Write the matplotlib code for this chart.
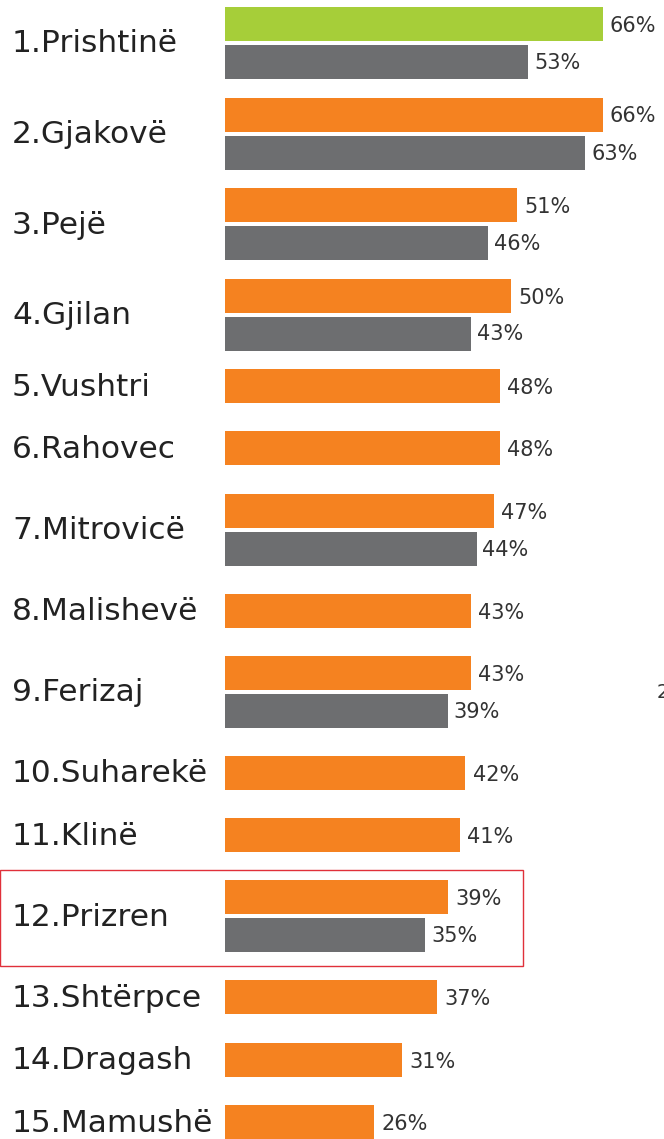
import matplotlib.pyplot as plt
from matplotlib.patches import Rectangle

cities = ["1.Prishtinë", "2.Gjakovë", "3.Pejë", "4.Gjilan", "5.Vushtri",
          "6.Rahovec", "7.Mitrovicë", "8.Malishevë", "9.Ferizaj", "10.Suharekë",
          "11.Klinë", "12.Prizren", "13.Shtërpce", "14.Dragash", "15.Mamushë"]
current = [66, 66, 51, 50, 48, 48, 47, 43, 43, 42, 41, 39, 37, 31, 26]
previous = [53, 63, 46, 43, None, None, 44, None, 39, None, None, 35, None, None, None]

ORANGE = "#F58220"
GREEN = "#A6CE39"
GRAY = "#6D6E70"
W, H = 664, 1139
PX = 5.72      # pixels per percent
X0 = 225       # bar start in pixels

fig = plt.figure(figsize=(W / 100, H / 100), dpi=100)
ax = fig.add_axes([0, 0, 1, 1])
ax.set_xlim(-X0 / PX, (W - X0) / PX)
ax.set_ylim(H, 0)
ax.axis("off")

top = 7
bar_h = 34
for i, city in enumerate(cities):
    c1 = top + bar_h / 2
    ax.barh(c1, current[i], height=bar_h, color=GREEN if i == 0 else ORANGE)
    ax.text(current[i] + 1.3, c1 + 2, f"{current[i]}%", fontsize=15,
            color="#333333", va="center", ha="left")
    if previous[i] is not None:
        c2 = c1 + bar_h + 4
        ax.barh(c2, previous[i], height=bar_h, color=GRAY)
        ax.text(previous[i] + 1.0, c2 + 1, f"{previous[i]}%", fontsize=15,
                color="#333333", va="center", ha="left")
        label_y = (c1 + c2) / 2
        top += 90.5 if i < 4 else 100
    else:
        label_y = c1
        top += 62.3
    ax.text(-X0 / PX + 12 / PX, label_y + 1, city, fontsize=22.5,
            color="#222222", va="center", ha="left")

# highlight box around Prizren
fig.patches.append(Rectangle((0, 1 - 966 / H), 523 / W, 96 / H,
                             transform=fig.transFigure, fill=False,
                             edgecolor="#E0303A", linewidth=1))

# cut-off character at the right edge
fig.text(657 / W, 1 - 692 / H, "2", fontsize=14, color="#333333", va="center")

fig.savefig("out.png", dpi=100)
